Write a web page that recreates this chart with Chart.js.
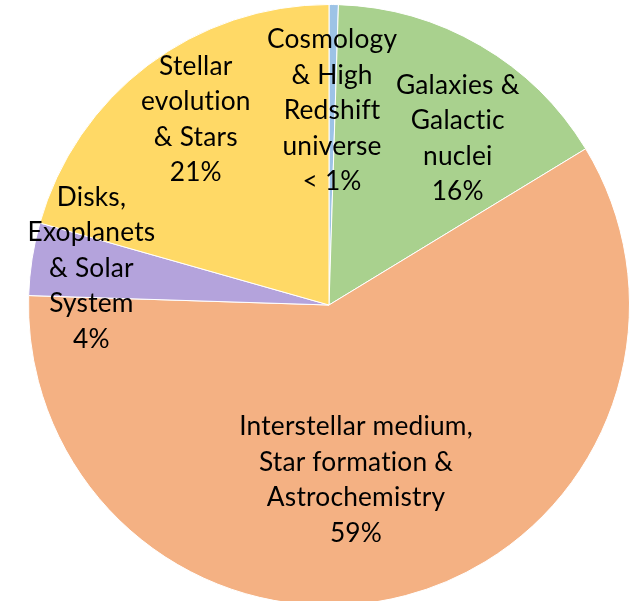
<!DOCTYPE html>
<html>
<head>
<meta charset="utf-8">
<script src="https://cdn.jsdelivr.net/npm/chart.js@4/dist/chart.umd.min.js"></script>
<style>
html,body{margin:0;padding:0;background:#fff;overflow:hidden;width:633px;height:601px;}
#wrap{position:absolute;left:28px;top:4px;width:602px;height:602px;}
</style>
</head>
<body>
<div id="wrap"><canvas id="c" width="602" height="602"></canvas></div>
<script>
const categories = [
  ["Cosmology", "& High", "Redshift", "universe"],
  ["Galaxies &", "Galactic", "nuclei"],
  ["Interstellar medium,", "Star formation &", "Astrochemistry"],
  ["Disks,", "Exoplanets", "& Solar", "System"],
  ["Stellar", "evolution", "& Stars"]
];
const shares = [0.5, 15.8, 59.2, 3.9, 20.6];
const percentLabels = ["< 1%", "16%", "59%", "4%", "21%"];
const colors = ["#9DC3E6", "#A9D18E", "#F4B183", "#B4A3DC", "#FFD966"];

// label placement: radial fraction of radius, angular shift (deg) from slice mid-angle
const labelPlacement = [
  {r: 0.647, shift: 0},
  {r: 0.70, shift: 7.5},
  {r: 0.59, shift: 6},
  {r: 0.80, shift: 0},
  {r: 0.76, shift: 1.4}
];

const labelPlugin = {
  id: 'sliceLabels',
  afterDatasetsDraw(chart) {
    const ctx = chart.ctx;
    const meta = chart.getDatasetMeta(0);
    ctx.save();
    ctx.font = '26.3px Lato, "Open Sans", sans-serif';
    if ('letterSpacing' in ctx) ctx.letterSpacing = '0.2px';
    ctx.fillStyle = '#000';
    ctx.textAlign = 'center';
    ctx.textBaseline = 'middle';
    const lineH = 35.5;
    meta.data.forEach((arc, i) => {
      const p = arc.getProps(['x','y','startAngle','endAngle','outerRadius'], true);
      const mid = (p.startAngle + p.endAngle) / 2 + labelPlacement[i].shift * Math.PI / 180;
      const rr = p.outerRadius * labelPlacement[i].r;
      const cx = p.x + Math.cos(mid) * rr;
      const cy = p.y + Math.sin(mid) * rr;
      const lines = categories[i].concat([percentLabels[i]]);
      const top = cy - (lines.length - 1) * lineH / 2;
      lines.forEach((t, k) => ctx.fillText(t, cx, top + k * lineH));
    });
    ctx.restore();
  }
};

new Chart(document.getElementById('c'), {
  type: 'pie',
  data: {
    labels: categories.map(l => l.join(' ')),
    datasets: [{
      data: shares,
      backgroundColor: colors,
      borderColor: '#ffffff',
      borderWidth: 1
    }]
  },
  options: {
    responsive: false,
    animation: false,
    layout: {padding: 0},
    plugins: {
      legend: {display: false},
      tooltip: {enabled: false}
    }
  },
  plugins: [labelPlugin]
});
</script>
</body>
</html>
